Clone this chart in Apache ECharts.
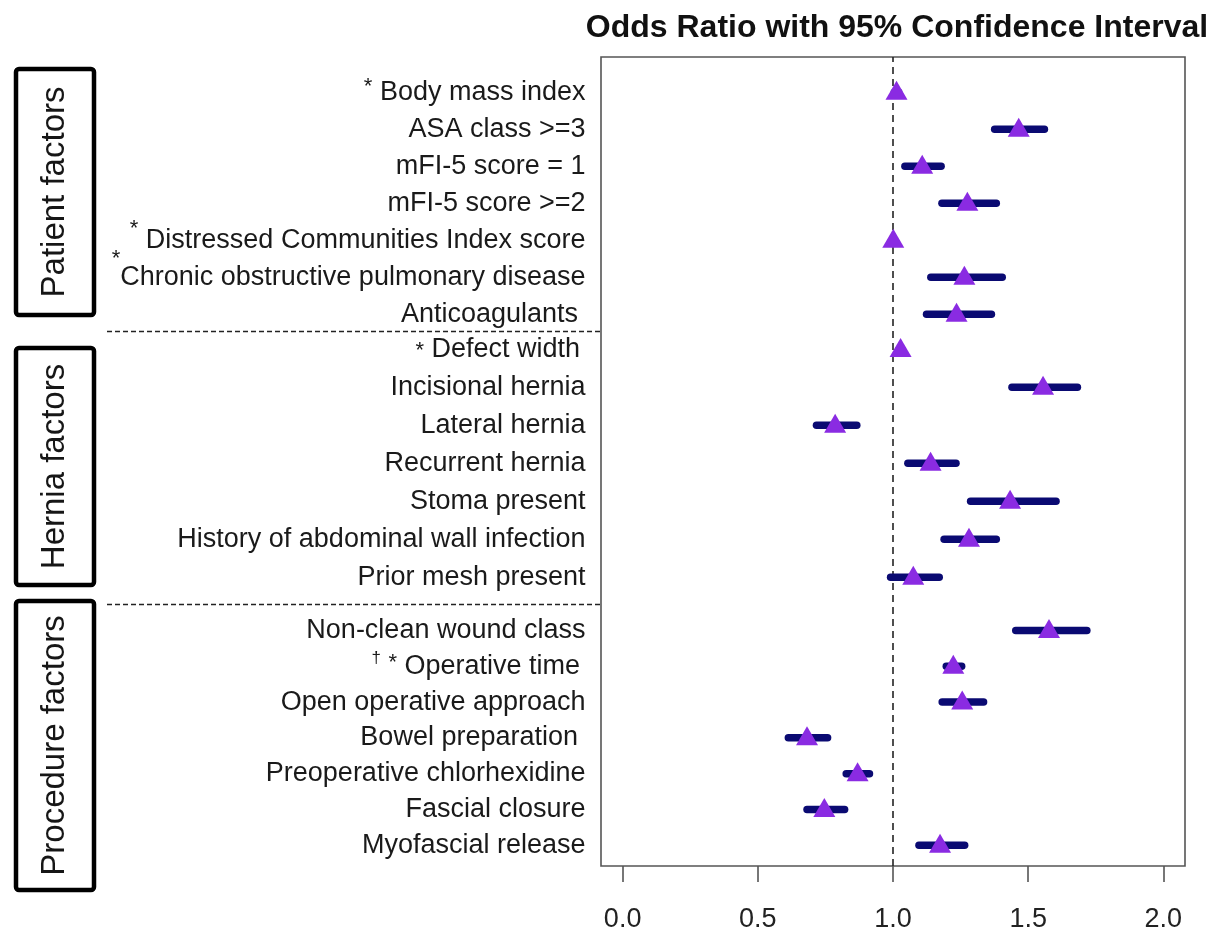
<!DOCTYPE html>
<html>
<head>
<meta charset="utf-8">
<script src="https://cdn.jsdelivr.net/npm/echarts@6/dist/echarts.min.js"></script>
<style>
  html, body { margin: 0; padding: 0; background: #fff; }
  #chart { width: 1212px; height: 933px; }
</style>
</head>
<body>
<div id="chart"></div>
<script>
// Risk factors per group, top to bottom (leading † / * are footnote marks)
const patientFactors = [
  '* Body mass index',
  'ASA class >=3',
  'mFI-5 score = 1',
  'mFI-5 score >=2',
  '* Distressed Communities Index score',
  '*Chronic obstructive pulmonary disease',
  'Anticoagulants '
];
const herniaFactors = [
  '* Defect width\u2009',
  'Incisional hernia',
  'Lateral hernia',
  'Recurrent hernia',
  'Stoma present',
  'History of abdominal wall infection',
  'Prior mesh present'
];
const procedureFactors = [
  'Non-clean wound class',
  '\u2020 * Operative time\u2009',
  'Open operative approach',
  'Bowel preparation ',
  'Preoperative chlorhexidine',
  'Fascial closure',
  'Myofascial release'
];
const groupNames = ['Patient factors', 'Hernia factors', 'Procedure factors'];

// Odds ratios and 95% confidence limits, same order as the factor lists
const oddsRatio = [1.013, 1.465, 1.108, 1.275, 1.001, 1.264, 1.235,
                   1.028, 1.555, 0.786, 1.139, 1.433, 1.281, 1.075,
                   1.577, 1.223, 1.256, 0.682, 0.869, 0.746, 1.174];
const ciLower   = [1.005, 1.376, 1.044, 1.181, 0.998, 1.140, 1.124,
                   1.022, 1.440, 0.717, 1.055, 1.287, 1.189, 0.991,
                   1.454, 1.197, 1.182, 0.613, 0.827, 0.682, 1.096];
const ciUpper   = [1.021, 1.560, 1.178, 1.382, 1.004, 1.404, 1.364,
                   1.034, 1.682, 0.866, 1.233, 1.603, 1.382, 1.171,
                   1.717, 1.254, 1.335, 0.758, 0.913, 0.821, 1.265];

const xTicks = [0, 0.5, 1.0, 1.5, 2.0];
const referenceOR = 1;

const FONT = '"Liberation Sans", Arial, Helvetica, sans-serif';
const groupFactors = [patientFactors, herniaFactors, procedureFactors];

// row panels (pixel bands) for the three groups, and the frame around them
const frame = { left: 601, right: 27, top: 57, bottom: 64 };
const panels = [
  { top: 73.7, bottom: 933 - 332.7 },
  { top: 330.4, bottom: 933 - 596.2 },
  { top: 612.6, bottom: 933 - 863.1 }
];

// vertical lift (px) of footnote asterisks on particular labels
const footnoteLift = {
  '* Body mass index': 5,
  '* Distressed Communities Index score': 11,
  '*Chronic obstructive pulmonary disease': 18,
  '* Defect width\u2009': -2,
  '\u2020 * Operative time\u2009': 3
};
const liftKeys = Object.keys(footnoteLift);

const rich = {
  t: { fontSize: 27, fontFamily: FONT, color: '#1a1a1a' },
  d: { fontSize: 17, fontFamily: FONT, color: '#1a1a1a', padding: [0, 0, 16, 0] }
};
liftKeys.forEach((k, n) => {
  const lift = footnoteLift[k];
  rich['a' + n] = {
    fontSize: 22, fontFamily: FONT, color: '#1a1a1a',
    padding: lift >= 0 ? [0, 0, 2 * lift, 0] : [-2 * lift, 0, 0, 0]
  };
});

function factorLabel(value) {
  const styleName = 'a' + liftKeys.indexOf(value);
  let i = 0;
  let out = '';
  while (i < value.length && (value[i] === '*' || value[i] === '\u2020' || value[i] === ' ')) {
    const ch = value[i];
    if (ch === '*') out += '{' + styleName + '|*}';
    else if (ch === '\u2020') out += '{d|\u2020}';
    else out += '{t| }';
    i++;
  }
  return out + '{t|' + value.slice(i) + '}';
}

// group boxes on the far left and dashed separators between groups
const groupBoxes = [
  { y: 69, h: 246 },
  { y: 348, h: 237 },
  { y: 601, h: 289 }
];
const graphic = [];
groupBoxes.forEach((b, k) => {
  graphic.push({
    type: 'rect',
    shape: { x: 16, y: b.y, width: 78, height: b.h, r: 3 },
    style: { fill: 'none', stroke: '#000', lineWidth: 4.5 },
    silent: true
  });
  graphic.push({
    type: 'text',
    x: 55, y: b.y + b.h / 2,
    rotation: Math.PI / 2,
    style: {
      text: groupNames[k],
      font: '33px ' + FONT,
      fill: '#161616',
      align: 'center', verticalAlign: 'middle',
      textAlign: 'center', textVerticalAlign: 'middle'
    },
    silent: true
  });
});
for (let k = 0; k < panels.length - 1; k++) {
  const y = ((933 - panels[k].bottom) + panels[k + 1].top) / 2;
  graphic.push({
    type: 'line',
    shape: { x1: 107, y1: y, x2: frame.left, y2: y },
    style: { stroke: '#222', lineWidth: 1.5, lineDash: [5, 3] },
    silent: true
  });
}

const grids = [
  { left: frame.left, right: frame.right, top: frame.top, bottom: frame.bottom,
    show: true, borderColor: '#555', borderWidth: 1.6, backgroundColor: 'transparent' }
];
const xAxes = [
  {
    gridIndex: 0, type: 'value', min: -0.08, max: 2.08,
    splitLine: { show: false },
    axisLine: { show: false },
    axisTick: { show: true, customValues: xTicks, length: 16, lineStyle: { color: '#555', width: 1.6 } },
    axisLabel: {
      customValues: xTicks, margin: 40,
      fontFamily: FONT, fontSize: 27, color: '#222',
      formatter: v => v.toFixed(1)
    }
  }
];
const yAxes = [{ gridIndex: 0, type: 'value', min: 0, max: 1, show: false }];
const series = [
  {
    name: 'No effect',
    type: 'line',
    xAxisIndex: 0, yAxisIndex: 0,
    data: [[referenceOR, 0], [referenceOR, 1]],
    symbol: 'none',
    lineStyle: { color: '#222', width: 1.6, type: [7, 5] },
    silent: true,
    z: 1
  }
];

let offset = 0;
groupFactors.forEach((list, g) => {
  const gi = g + 1;
  grids.push({ left: frame.left, right: frame.right, top: panels[g].top, bottom: panels[g].bottom });
  xAxes.push({ gridIndex: gi, type: 'value', min: -0.08, max: 2.08, show: false });
  yAxes.push({
    gridIndex: gi, type: 'category', data: list, inverse: true,
    axisLine: { show: false },
    axisTick: { show: false },
    splitLine: { show: false },
    axisLabel: {
      interval: 0, margin: 15.5,
      fontFamily: FONT, fontSize: 27, color: '#1a1a1a',
      formatter: factorLabel,
      rich: rich
    }
  });
  const start = offset;
  series.push({
    name: '95% CI',
    type: 'custom',
    xAxisIndex: gi, yAxisIndex: gi,
    data: list.map((f, i) => [ciLower[start + i], ciUpper[start + i], i]),
    encode: { x: [0, 1], y: 2 },
    renderItem: (params, api) => {
      const a = api.coord([api.value(0), api.value(2)]);
      const b = api.coord([api.value(1), api.value(2)]);
      return {
        type: 'line',
        shape: { x1: a[0], y1: a[1], x2: b[0], y2: b[1] },
        style: { stroke: '#0a0a72', lineWidth: 7.5, lineCap: 'round' }
      };
    },
    silent: true,
    z: 2
  });
  series.push({
    name: 'Odds ratio',
    type: 'scatter',
    xAxisIndex: gi, yAxisIndex: gi,
    data: list.map((f, i) => [oddsRatio[start + i], i]),
    symbol: 'triangle',
    symbolSize: [22, 19],
    symbolOffset: [0, -2],
    itemStyle: { color: '#8a2be2', opacity: 1 },
    silent: true,
    z: 3
  });
  offset += list.length;
});

const chart = echarts.init(document.getElementById('chart'), null, { renderer: 'canvas' });
chart.setOption({
  animation: false,
  backgroundColor: '#fff',
  title: {
    text: 'Odds Ratio with 95% Confidence Interval',
    left: 892,
    textAlign: 'center',
    top: 7,
    textStyle: { fontFamily: FONT, fontSize: 32, fontWeight: 'bold', color: '#111' }
  },
  graphic: graphic,
  grid: grids,
  xAxis: xAxes,
  yAxis: yAxes,
  series: series
});
</script>
</body>
</html>
